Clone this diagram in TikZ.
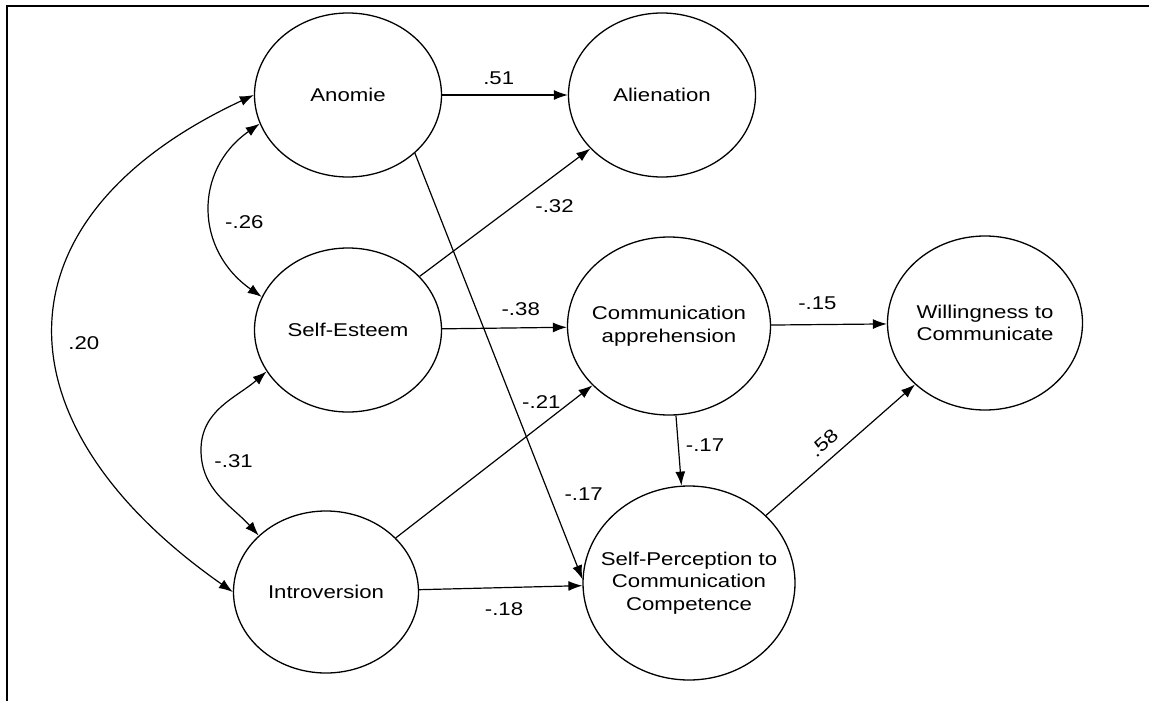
\documentclass[tikz,border=0pt]{standalone}
\usepackage{fontspec}
\setmainfont{Liberation Sans}[FakeStretch=1.2]
\usetikzlibrary{shapes.geometric}
\usetikzlibrary{arrows.meta}

\tikzset{
  var/.style={draw, ellipse, line width=1.3pt, align=center,
    minimum width=187pt, minimum height=164pt, inner xsep=-20pt, inner ysep=0pt},
  effect/.style={line width=1.2pt, -{Latex[length=14pt,width=10pt]}},
  corr/.style={line width=1.2pt, {Latex[length=14pt,width=10pt]}-{Latex[length=14pt,width=10pt]}},
  coef/.style={inner sep=2pt},
}

\begin{document}
\begin{tikzpicture}[x=1pt,y=-1pt,font=\fontsize{18.5}{22.5}\selectfont]
    \useasboundingbox (0,0) rectangle (1149,701);
    \draw[line width=2pt] (7,701) -- (7,6) -- (1149,6);
    % Exogenous Variables
    \node[var] (anomie) at (348,95) {Anomie};
    \node[var] (esteem) at (348,330) {Self-Esteem};
    \node[var, minimum width=185pt, minimum height=162pt] (intro) at (326,592) {Introversion};
    % Endogenous Variables
    \node[var] (alien) at (662,95) {Alienation};
    \node[var, minimum width=203pt, minimum height=178pt] (appr) at (669,326) {Communication\\apprehension};
    \node[var, minimum width=195pt, minimum height=174pt] (wtc) at (985,323) {Willingness to\\Communicate};
    \node[var, minimum width=212pt, minimum height=194pt] (spcc) at (689,583) {Self-Perception to\\Communication\\Competence};
    \coordinate (bendSI) at (201,450);
    %
    % Path Coefficients:
  \draw[effect] (anomie) -- node[coef, pos=0.45, above=8pt] {.51} (alien);
  \draw[effect] (esteem) -- node[coef, pos=0.79, below=22pt] {-.32} (alien);
  \draw[effect] (esteem) -- node[coef, pos=0.63, above=10pt] {-.38} (appr);
  \draw[effect] (anomie.-41) -- node[coef, pos=0.8, right=13pt] {-.17} (spcc.178);
  \draw[effect] (intro) -- node[coef, pos=0.74, above=14pt] {-.21} (appr);
  \draw[effect] (intro) -- node[coef, pos=0.52, below=12pt] {-.18} (spcc);
  \draw[effect] (appr) -- node[coef, pos=0.4, above=12pt] {-.15} (wtc);
  \draw[effect] (appr) -- node[coef, pos=0.42, right=5pt] {-.17} (spcc);
  \draw[effect] (spcc) -- node[coef, pos=0.46, above=7pt, sloped] {.58} (wtc);
    % Correlations
  \draw[corr] (anomie.198) to[out=215, in=145, looseness=1.2] node[coef, pos=0.56, right=11pt] {-.26} (esteem.159);
  \draw[corr] (esteem.207) to[out=221, in=90] (bendSI) to[out=-90, in=132] node[coef, pos=0.1, right=10pt] {-.31} (intro.140);
  \draw[corr] (anomie.180) to[out=205, in=145, looseness=1.5] node[coef, pos=0.53, right=11pt] {.20} (intro.180);
\end{tikzpicture}
\end{document}
